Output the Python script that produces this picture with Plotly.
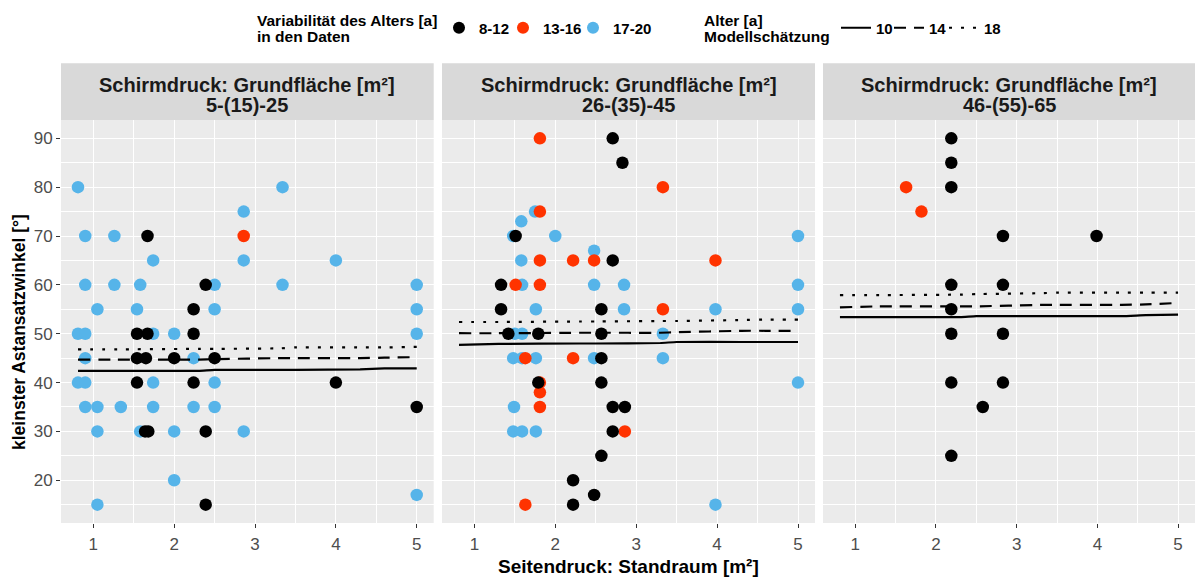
import plotly.graph_objects as go

# ---- observed data: x = Seitendruck (Standraum), y = kleinster Astansatzwinkel ----
# panel 1: Schirmdruck 5-(15)-25
p1_blue_x = [0.81, 3.34, 2.86, 0.9, 1.26, 1.74, 2.86, 4.0, 0.9, 1.26, 1.58, 2.5, 3.34, 5.0,
             1.05, 1.54, 2.5, 5.0, 0.81, 0.9, 1.74, 2.0, 5.0, 0.9, 2.24, 0.81, 0.9, 1.74, 2.5,
             0.9, 1.05, 1.34, 1.74, 2.24, 2.5, 1.05, 1.58, 2.0, 2.86, 2.0, 1.05, 5.0]
p1_blue_y = [80, 80, 75, 70, 70, 65, 65, 65, 60, 60, 60, 60, 60, 60,
             55, 55, 55, 55, 50, 50, 50, 50, 50, 45, 45, 40, 40, 40, 40,
             35, 35, 35, 35, 35, 35, 30, 30, 30, 30, 20, 15, 17]
p1_red_x = [2.86]
p1_red_y = [70]
p1_black_x = [1.67, 2.39, 2.24, 1.54, 1.67, 2.24, 1.54, 1.65, 2.0, 2.5, 1.54, 2.24, 4.0, 5.0,
              1.64, 1.68, 2.39, 2.39]
p1_black_y = [70, 60, 55, 50, 50, 50, 45, 45, 45, 45, 40, 40, 40, 35, 30, 30, 30, 15]

# panel 2: Schirmdruck 26-(35)-45
p2_blue_x = [1.75, 1.58, 1.48, 2.0, 5.0, 2.48, 1.58, 1.59, 2.48, 2.85, 5.0, 1.76, 2.85, 3.98,
             5.0, 1.5, 1.59, 3.33, 1.48, 1.59, 1.76, 2.48, 3.33, 5.0, 1.49, 1.48, 1.59, 1.76, 3.98]
p2_blue_y = [75, 73, 70, 70, 70, 67, 65, 60, 60, 60, 60, 55, 55, 55,
             55, 50, 50, 50, 45, 45, 45, 45, 45, 40, 35, 30, 30, 30, 15]
p2_red_x = [1.81, 3.33, 1.81, 1.81, 2.22, 2.48, 3.98, 1.51, 1.81, 3.33, 1.63, 2.22, 1.81, 1.81,
            1.81, 2.86, 1.63]
p2_red_y = [90, 80, 75, 65, 65, 65, 65, 60, 60, 55, 45, 45, 40, 38, 35, 30, 15]
p2_black_x = [2.71, 2.83, 1.51, 2.71, 1.33, 1.33, 2.57, 1.42, 1.79, 2.57, 2.57, 1.79, 2.57,
              2.71, 2.86, 2.71, 2.57, 2.22, 2.48, 2.22]
p2_black_y = [90, 85, 70, 65, 60, 55, 55, 50, 50, 50, 45, 40, 40, 35, 35, 30, 25, 20, 17, 15]

# panel 3: Schirmdruck 46-(55)-65
p3_blue_x = []
p3_blue_y = []
p3_red_x = [1.63, 1.82]
p3_red_y = [80, 75]
p3_black_x = [2.19, 2.19, 2.19, 2.83, 3.99, 2.19, 2.83, 2.19, 2.19, 2.83, 2.19, 2.83, 2.58, 2.19]
p3_black_y = [90, 85, 80, 70, 70, 60, 60, 55, 50, 50, 40, 40, 35, 25]

# ---- model estimates for age 10 / 14 / 18 ----
fit_x = [0.81, 1.3, 2.3, 2.5, 3.3, 3.5, 4.3, 4.6, 5.0]
p1_fit10 = [42.4, 42.4, 42.4, 42.6, 42.6, 42.6, 42.7, 42.9, 42.9]
p1_fit14 = [44.7, 44.7, 44.7, 44.8, 45.0, 45.0, 45.0, 45.1, 45.2]
p1_fit18 = [46.8, 46.8, 46.9, 46.9, 47.0, 47.2, 47.2, 47.2, 47.3]
p2_fit10 = [47.7, 47.9, 48.0, 48.0, 48.1, 48.3, 48.3, 48.3, 48.3]
p2_fit14 = [50.1, 50.1, 50.2, 50.2, 50.2, 50.3, 50.6, 50.6, 50.6]
p2_fit18 = [52.4, 52.4, 52.5, 52.5, 52.6, 52.6, 52.8, 52.9, 52.9]
p3_fit10 = [53.4, 53.4, 53.4, 53.6, 53.6, 53.6, 53.6, 53.8, 53.9]
p3_fit14 = [55.4, 55.6, 55.6, 55.6, 55.9, 55.9, 55.9, 56.0, 56.3]
p3_fit18 = [57.9, 57.9, 58.0, 58.1, 58.3, 58.4, 58.4, 58.4, 58.4]

age_groups = ["8-12", "13-16", "17-20"]
age_colors = {"8-12": "#000000", "13-16": "#FF3300", "17-20": "#56B4E9"}
fit_ages = ["10", "14", "18"]
fit_dash = {"10": "solid", "14": "12px,8px", "18": "3px,9px"}

strip_line1 = "Schirmdruck: Grundfläche [m²]"
strip_line2 = ["5-(15)-25", "26-(35)-45", "46-(55)-65"]
x_ticks = [1, 2, 3, 4, 5]
y_ticks = [20, 30, 40, 50, 60, 70, 80, 90]

panels = [
    {"pts": {"17-20": (p1_blue_x, p1_blue_y), "13-16": (p1_red_x, p1_red_y), "8-12": (p1_black_x, p1_black_y)},
     "fit": {"10": p1_fit10, "14": p1_fit14, "18": p1_fit18}},
    {"pts": {"17-20": (p2_blue_x, p2_blue_y), "13-16": (p2_red_x, p2_red_y), "8-12": (p2_black_x, p2_black_y)},
     "fit": {"10": p2_fit10, "14": p2_fit14, "18": p2_fit18}},
    {"pts": {"17-20": (p3_blue_x, p3_blue_y), "13-16": (p3_red_x, p3_red_y), "8-12": (p3_black_x, p3_black_y)},
     "fit": {"10": p3_fit10, "14": p3_fit14, "18": p3_fit18}},
]

FONT = "Liberation Sans, Arial, sans-serif"
W, H = 1195, 578
ML, MR, MT, MB = 61, 0, 120, 55
plot_w = W - ML - MR
plot_h = H - MT - MB
domains = [(0.0, 372.7 / plot_w), ((442 - ML) / plot_w, (815 - ML) / plot_w), ((823 - ML) / plot_w, 1.0)]


def py(px):
    """paper y coordinate for a pixel row measured from the top of the page"""
    return (H - MB - px) / plot_h


def pxx(px):
    """paper x coordinate for a pixel column"""
    return (px - ML) / plot_w


# one legend box per key entry so that each sits at its own spot in the header row
point_legend = {"8-12": ("legend", 439), "13-16": ("legend3", 503), "17-20": ("legend4", 573)}
line_legend = {"10": ("legend2", 836), "14": ("legend5", 889), "18": ("legend6", 944)}

fig = go.Figure()

for i, panel in enumerate(panels):
    xa = "x" if i == 0 else f"x{i + 1}"
    ya = "y" if i == 0 else f"y{i + 1}"
    # points: blue first, then red, black on top
    for grp in ["17-20", "13-16", "8-12"]:
        xs, ys = panel["pts"][grp]
        fig.add_trace(go.Scatter(
            x=xs if xs else [None], y=ys if ys else [None], mode="markers",
            marker=dict(color=age_colors[grp], size=12.5, line=dict(width=0)),
            name="<b>" + grp + "</b>", legendgroup=grp, showlegend=(i == 0),
            legend=point_legend[grp][0], xaxis=xa, yaxis=ya, hoverinfo="skip"))
    for age in fit_ages:
        fig.add_trace(go.Scatter(
            x=fit_x, y=panel["fit"][age], mode="lines",
            line=dict(color="black", width=2.2, dash=fit_dash[age], shape="spline", smoothing=0.4),
            name="<b>" + age + "</b>", legendgroup="fit" + age, showlegend=(i == 0),
            legend=line_legend[age][0], xaxis=xa, yaxis=ya, hoverinfo="skip"))

axis_common = dict(showgrid=True, gridcolor="white", gridwidth=1.2, zeroline=False,
                   ticks="outside", ticklen=4, tickcolor="#333333", tickwidth=1,
                   tickfont=dict(family=FONT, size=17, color="#4D4D4D"),
                   showline=False, fixedrange=True)

layout = dict(
    width=W, height=H,
    margin=dict(l=ML, r=MR, t=MT, b=MB, pad=0),
    paper_bgcolor="white", plot_bgcolor="#EBEBEB",
    font=dict(family=FONT, color="black"),
    showlegend=True,
)

for i in range(3):
    xk = "xaxis" if i == 0 else f"xaxis{i + 1}"
    yk = "yaxis" if i == 0 else f"yaxis{i + 1}"
    layout[xk] = dict(axis_common, domain=domains[i], range=[0.6, 5.21],
                      tickmode="array", tickvals=x_ticks, ticklabelstandoff=2,
                      minor=dict(tickmode="array", tickvals=[0.5, 1.5, 2.5, 3.5, 4.5],
                                 showgrid=True, gridcolor="white", gridwidth=0.6, ticks=""),
                      anchor="y" if i == 0 else f"y{i + 1}")
    layout[yk] = dict(axis_common, domain=[0, 1], range=[11.25, 93.75],
                      tickmode="array", tickvals=y_ticks,
                      minor=dict(tickmode="array", tickvals=[15, 25, 35, 45, 55, 65, 75, 85],
                                 showgrid=True, gridcolor="white", gridwidth=0.6, ticks=""),
                      showticklabels=(i == 0),
                      ticks="outside" if i == 0 else "",
                      anchor="x" if i == 0 else f"x{i + 1}")

strip_top = py(63.3)
shapes = []
annotations = []
for i, (d0, d1) in enumerate(domains):
    shapes.append(dict(type="rect", xref="paper", yref="paper", x0=d0, x1=d1,
                       y0=1.0, y1=strip_top, fillcolor="#D9D9D9", line=dict(width=0), layer="below"))
    for txt, row in ((strip_line1, 85), (strip_line2[i], 105)):
        annotations.append(dict(xref="paper", yref="paper", x=(d0 + d1) / 2, y=py(row),
                                text="<b>" + txt + "</b>", showarrow=False,
                                font=dict(family=FONT, size=20, color="#1A1A1A"),
                                xanchor="center", yanchor="middle"))

# axis titles
annotations.append(dict(xref="paper", yref="paper", x=pxx(628), y=py(566.5),
                        text="<b>Seitendruck: Standraum [m²]</b>", showarrow=False,
                        font=dict(family=FONT, size=19), xanchor="center", yanchor="middle"))
annotations.append(dict(xref="paper", yref="paper", x=pxx(19), y=py(332),
                        text="<b>kleinster Astansatzwinkel [°]</b>", showarrow=False, textangle=-90,
                        font=dict(family=FONT, size=17.5), xanchor="center", yanchor="middle"))

# legend headings (two lines each, tight line spacing)
for txt, left, row in (("Variabilität des Alters [a]", 255, 20), ("in den Daten", 255, 37),
                       ("Alter [a]", 702, 20), ("Modellschätzung", 702, 37)):
    annotations.append(dict(xref="paper", yref="paper", x=pxx(left), y=py(row),
                            text="<b>" + txt + "</b>", showarrow=False,
                            font=dict(family=FONT, size=15.5), xanchor="left", yanchor="middle"))

layout["shapes"] = shapes
layout["annotations"] = annotations

legend_font = dict(family=FONT, size=15, color="black")
for grp, (lname, left) in point_legend.items():
    layout[lname] = dict(orientation="h", x=pxx(left), y=py(28), xanchor="left", yanchor="middle",
                         font=legend_font, itemsizing="constant", itemwidth=30,
                         bgcolor="rgba(0,0,0,0)", borderwidth=0)
for age, (lname, left) in line_legend.items():
    layout[lname] = dict(orientation="h", x=pxx(left), y=py(28), xanchor="left", yanchor="middle",
                         font=legend_font, itemwidth=30,
                         bgcolor="rgba(0,0,0,0)", borderwidth=0)

fig.update_layout(**layout)
fig.write_html("out.html")
